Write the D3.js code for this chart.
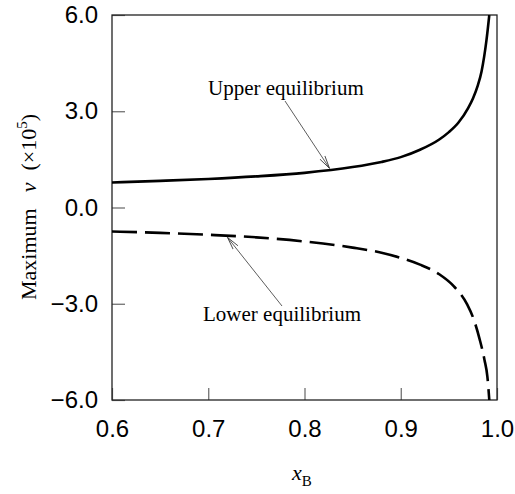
<!DOCTYPE html>
<html>
<head>
<meta charset="utf-8">
<script src="https://cdn.jsdelivr.net/npm/d3@7"></script>
<style>
  body { margin: 0; background: #fff; }
</style>
</head>
<body>
<div id="chart-area"></div>
<script>
// values
var xUpper = [0.60, 0.65, 0.70, 0.75, 0.80, 0.85, 0.88, 0.90, 0.92, 0.94, 0.95, 0.96, 0.97, 0.975, 0.98, 0.984, 0.989, 0.992];
var vUpper = [0.78, 0.83, 0.89, 0.97, 1.08, 1.26, 1.42, 1.57, 1.80, 2.12, 2.35, 2.65, 3.10, 3.40, 3.80, 4.25, 5.20, 6.0];
var xLower = [0.60, 0.65, 0.70, 0.75, 0.80, 0.85, 0.88, 0.90, 0.92, 0.94, 0.955, 0.969, 0.976, 0.982, 0.987, 0.990, 0.992];
var vLower = [-0.75, -0.79, -0.85, -0.93, -1.06, -1.25, -1.41, -1.57, -1.78, -2.08, -2.45, -3.02, -3.50, -4.11, -4.75, -5.27, -6.0];
var xTicks = [0.6, 0.7, 0.8, 0.9, 1.0];
var yTicks = [-6, -3, 0, 3, 6];

var W = 515, H = 494;
var margin = {left: 112, top: 15};
var width = 385, height = 385;

var svg = d3.select("#chart-area").append("svg")
            .attr("width", W)
            .attr("height", H);

var defs = svg.append("defs");
defs.append("clipPath").attr("id", "clip")
    .append("rect").attr("width", width).attr("height", height);
defs.append("marker")
    .attr("id", "arrow")
    .attr("viewBox", "0 0 14 8")
    .attr("refX", 13).attr("refY", 4)
    .attr("markerWidth", 14).attr("markerHeight", 8)
    .attr("markerUnits", "userSpaceOnUse")
    .attr("orient", "auto")
    .append("path")
    .attr("d", "M0,1 L13,4 L0,7")
    .attr("fill", "none")
    .attr("stroke", "#333")
    .attr("stroke-width", 0.8);

var g = svg.append("g").attr("transform", "translate(" + margin.left + "," + margin.top + ")");

const x = d3.scaleLinear().domain([0.6, 1.0]).range([0, width]);
const y = d3.scaleLinear().domain([-6, 6]).range([height, 0]);

// axes with inward ticks
var xAxis = d3.axisBottom(x).tickValues(xTicks).tickSize(-12).tickPadding(20)
              .tickFormat(d3.format(".1f"));
var yAxis = d3.axisLeft(y).tickValues(yTicks).tickSize(-13).tickPadding(14)
              .tickFormat((d) => { return d3.format(".1f")(d).replace("-", "\u2212"); });

var gx = g.append("g").attr("transform", "translate(0," + height + ")").call(xAxis);
var gy = g.append("g").call(yAxis);

[gx, gy].forEach((a) => {
    a.select(".domain").remove();
    a.selectAll(".tick line").attr("stroke", "#666").attr("stroke-width", 1.2);
    a.selectAll(".tick text")
        .attr("font-family", "Liberation Sans, Arial, sans-serif")
        .attr("font-size", 24)
        .attr("fill", "#000");
});

// frame
g.append("rect")
    .attr("width", width).attr("height", height)
    .attr("fill", "none")
    .attr("stroke", "#222")
    .attr("stroke-width", 1.3);

var line = d3.line()
    .x((d) => { return x(d[0]); })
    .y((d) => { return y(d[1]); })
    .curve(d3.curveMonotoneX);

var curves = g.append("g").attr("clip-path", "url(#clip)");

curves.append("path")
    .datum(d3.zip(xUpper, vUpper))
    .attr("d", line)
    .attr("fill", "none")
    .attr("stroke", "#000")
    .attr("stroke-width", 2.6);

curves.append("path")
    .datum(d3.zip(xLower, vLower))
    .attr("d", line)
    .attr("fill", "none")
    .attr("stroke", "#000")
    .attr("stroke-width", 2.6)
    .attr("stroke-dasharray", "25,8");

// annotations
var serif = "Liberation Serif, Times New Roman, serif";

svg.append("text")
    .attr("x", 208).attr("y", 95)
    .attr("font-family", serif).attr("font-size", 21)
    .text("Upper equilibrium");
svg.append("line")
    .attr("x1", 285).attr("y1", 101)
    .attr("x2", x(0.826) + margin.left).attr("y2", y(1.19) + margin.top - 1)
    .attr("stroke", "#333").attr("stroke-width", 0.8)
    .attr("marker-end", "url(#arrow)");

svg.append("text")
    .attr("x", 203).attr("y", 321)
    .attr("font-family", serif).attr("font-size", 21)
    .text("Lower equilibrium");
svg.append("line")
    .attr("x1", 282).attr("y1", 306)
    .attr("x2", x(0.72) + margin.left).attr("y2", y(-0.87) + margin.top + 2)
    .attr("stroke", "#333").attr("stroke-width", 0.8)
    .attr("marker-end", "url(#arrow)");

// axis titles
var xt = svg.append("text")
    .attr("x", 292).attr("y", 480)
    .attr("font-family", serif).attr("font-size", 22);
xt.append("tspan").attr("font-style", "italic").text("x");
xt.append("tspan").attr("font-size", 15).attr("dy", 6).text("B");

var yt = svg.append("text")
    .attr("transform", "translate(36,300) rotate(-90)")
    .attr("font-family", serif).attr("font-size", 22);
yt.append("tspan").text("Maximum");
yt.append("tspan").attr("dx", 16).attr("font-style", "italic").text("v");
yt.append("tspan").attr("dx", 12).text("(\u00d710");
yt.append("tspan").attr("dy", -9).attr("font-size", 15).text("5");
yt.append("tspan").attr("dy", 9).text(")");
</script>
</body>
</html>
